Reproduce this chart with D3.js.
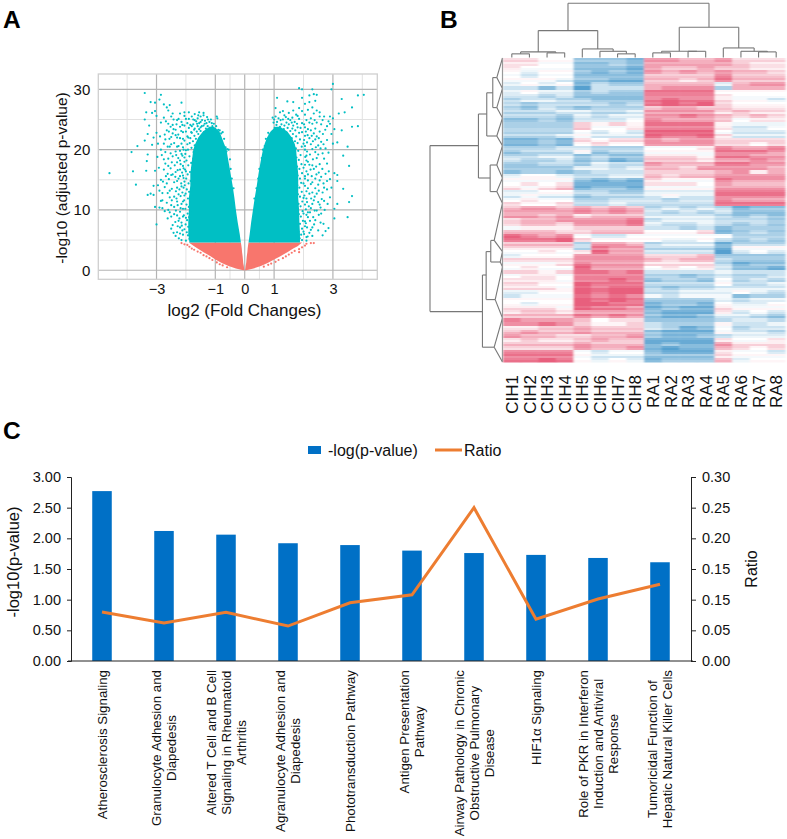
<!DOCTYPE html>
<html><head><meta charset="utf-8">
<script src="https://cdn.jsdelivr.net/npm/d3@7/dist/d3.min.js"></script>
<style>
html,body{margin:0;padding:0;background:#fff}
svg{display:block}
text{font-family:"Liberation Sans",Arial,sans-serif;fill:#111}
</style></head><body><svg id="c" width="787" height="839"></svg>
<script>
// ---------- Panel A: volcano ----------
const volcanoXMajor=[-3,-1,0,1,3];
const volcanoXMinor=[-4,-2,-0.5,0.5,2,4];
const volcanoYMajor=[0,10,20,30];
const volcanoYMinor=[5,15,25];
// dense parts of the cloud: bands of -log10(p) and the log2FC edges at each
const leftCloudP=[4.6,6,8,10,12,14,16,18,20,21,22,23,23.8];
const leftCloudOuter=[-1.88,-1.92,-1.92,-1.9,-1.9,-1.85,-1.85,-1.8,-1.75,-1.68,-1.58,-1.42,-1.2];
const leftCloudInner=[-0.13,-0.17,-0.24,-0.3,-0.35,-0.41,-0.48,-0.55,-0.62,-0.7,-0.78,-0.86,-1.05];
const rightCloudP=[4.6,6,8,10,12,14,16,18,20,21,22,23,23.8];
const rightCloudInner=[0.13,0.17,0.22,0.28,0.34,0.41,0.47,0.54,0.62,0.68,0.76,0.88,1.05];
const rightCloudOuter=[1.88,1.88,1.86,1.85,1.82,1.82,1.82,1.78,1.75,1.7,1.6,1.45,1.2];
const redP=[0,0.3,0.7,1.2,1.8,2.3,3,3.6,4,4.6];
const redLeftOuter=[-0.05,-0.3,-0.55,-0.78,-1.0,-1.15,-1.4,-1.6,-1.72,-1.9];
const redLeftInner=[-0.01,-0.02,-0.03,-0.05,-0.06,-0.07,-0.09,-0.1,-0.11,-0.13];
const redRightInner=[0.01,0.02,0.03,0.05,0.06,0.07,0.09,0.1,0.11,0.13];
const redRightOuter=[0.05,0.3,0.55,0.78,1.0,1.2,1.45,1.65,1.8,1.95];
// scatter
const tealLeft=[[-4.6,16.1],[-3.85,19.6],[-3.8,16.4],[-3.7,14.2],[-3.65,20.6],[-3.4,21.5],[-3.3,22.6],[-3.3,19.2],[-3.35,16.5],[-3.33,18.1],[-3.3,12.5],[-3.2,12.7],[-3.1,12.5],[-3.05,10.5],[-3,7.6],[-3.4,29.4],[-3.2,27.9],[-3.05,27.8],[-2.85,29.1],[-2.9,28.3],[-2.75,27.5],[-2.65,27],[-2.55,27.4],[-2.6,26.5],[-2.15,27.8],[-3.4,25],[-3.35,26.2],[-3.15,26.1],[-3.05,26.4],[-3,25.6],[-3.25,24],[-2.85,24.5],[-2.75,25.3],[-2.5,25.5],[-2.6,24.3],[-3,22.8],[-2.95,21],[-3.1,22],[-2.85,20],[-2.95,14.1],[-2.9,13.2],[-2.85,15],[-2.85,11.5],[-2.8,10.3],[-2.8,12.8],[-2.75,16.7],[-2.75,18.4],[-2.7,21.7],[-2.7,19.6],[-2.65,23.2],[-2.65,14.4],[-2.65,11.2],[-2.6,10],[-2.6,17.3],[-2.55,20.5],[-2.55,13.2],[-2.5,22.1],[-2.5,15.8],[-2.5,8.9],[-2.5,10.8],[-2.45,7.5],[-2.45,18.9],[-2.45,24.1],[-2.4,9.3],[-2.4,12.2],[-2.4,14.6],[-2.4,21.1],[-2.4,10.5],[-2.35,5.7],[-2.35,16.3],[-2.35,19.7],[-2.35,23.3],[-2.3,6.3],[-2.3,9.1],[-2.3,11.4],[-2.3,13.7],[-2.3,17.9],[-2.3,22],[-2.3,24.9],[-2.25,8.2],[-2.25,15.2],[-2.25,20.6],[-2.25,12.6],[-2.25,25.1],[-2.2,7.1],[-2.2,9.7],[-2.2,18.2],[-2.2,21.9],[-2.2,16.7],[-2.2,23.8],[-2.2,26],[-2.15,5],[-2.15,7.9],[-2.15,11],[-2.15,13.9],[-2.15,19.3],[-2.15,24.6],[-2.1,5.9],[-2.1,10.2],[-2.1,15.7],[-2.1,17.3],[-2.1,20.4],[-2.1,22.9],[-2.05,6.8],[-2.05,12.4],[-2.05,14.7],[-2.05,18.7],[-2.05,21.5],[-2.05,24],[-2.05,25.6],[-2,4.9],[-2,8.7],[-2,16.4],[-2,19.9],[-2,23],[-2,25.1],[-1.95,22.2],[-1.95,24.4],[-1.95,20.9],[-1.9,26.2],[-1.9,23.6],[-1.9,25.1],[-1.85,21.9],[-1.85,24.1],[-1.8,25.5],[-1.8,22.8],[-1.8,23.9],[-1.75,25],[-1.75,24.2],[-1.7,23.5],[-1.7,25.9],[-1.65,24.7],[-1.6,25.2],[-1.6,23.9],[-1.55,26.2],[-1.55,24.4],[-1.5,25.5],[-1.5,23.7],[-1.45,24.9],[-1.4,24],[-1.4,25.7],[-1.4,26.1],[-1.35,24.8],[-1.3,24.4],[-1.25,25],[-1.2,24.6],[-1.15,25],[-1.1,23.9],[-1.05,24.3],[-1.05,22.9],[-0.95,25.5],[-0.93,25.2],[-0.9,23.3],[-0.85,23.2],[-0.8,22.7],[-0.75,22.9],[-0.7,21.8],[-0.65,20.4],[-0.6,20.1],[-0.55,20],[-0.62,19.7],[-0.5,18.4],[-0.48,16.8],[-0.44,15.2],[-0.38,13.6]];
const tealLeftDense=[[-1.88,5.2],[-1.93,5.8],[-1.97,6.3],[-1.86,6.7],[-1.92,7.2],[-2.01,7.6],[-1.85,7.9],[-1.96,8.3],[-1.89,8.8],[-2.07,9.1],[-1.94,9.4],[-1.84,9.8],[-2.02,10.2],[-1.9,10.5],[-1.98,10.9],[-1.86,11.3],[-2.06,11.6],[-1.93,11.9],[-1.81,12.3],[-2.01,12.7],[-1.89,13],[-1.97,13.4],[-1.8,13.7],[-2.04,14.1],[-1.91,14.4],[-1.84,14.8],[-1.99,15.2],[-1.78,15.5],[-1.94,15.9],[-1.86,16.3],[-2.03,16.7],[-1.79,17],[-1.92,17.4],[-1.82,17.8],[-1.98,18.2],[-1.75,18.5],[-1.88,18.9],[-2.02,19.3],[-1.74,19.6],[-1.93,20],[-1.81,20.3],[-1.7,20.7],[-1.87,21.1],[-1.76,21.4],[-1.66,21.8],[-1.92,22],[-1.71,22.3],[-1.58,22.6],[-1.45,22.4],[-1.82,22.9],[-1.63,23],[-1.5,23.1],[-1.38,22.9],[-1.25,22.8],[-1.14,23.1],[-1.72,23.3],[-1.55,23.4],[-1.32,23.5],[-1.18,23.6],[-1,23.4],[-1.46,23.9],[-1.26,23.9],[-0.97,23.9],[-1.62,24.3],[-1.36,24.3],[-1.12,24.4],[-1.5,24.6],[-1.7,24.9],[-1.28,25.4],[-1.58,25.7],[-2.24,5.3],[-2.2,6.1],[-2.12,6.6],[-2.28,7.3],[-2.14,7.4],[-2.36,8],[-2.22,8.6],[-2.1,8.9],[-2.34,9.9],[-2.18,10.3],[-2.28,10.8],[-2.1,11.4],[-2.32,11.9],[-2.18,12.3],[-2.12,12.9],[-2.34,13.1],[-2.22,13.4],[-2.08,13.7],[-2.16,14.4],[-2.3,14.8],[-2.08,15.3],[-2.2,15.6],[-2.36,15.5],[-2.13,16.2],[-2.28,16.6],[-2.08,16.9],[-2.18,17.6],[-2.38,17.4],[-2.05,18],[-2.26,18.6],[-2.12,19],[-2.33,19.1],[-2.2,19.8],[-2.08,20],[-2.3,20.5],[-2.15,21],[-2.35,22.4],[-2.1,21.8],[-2.26,22.5],[-2.16,23.1],[-2.42,23.4],[-2.12,24.1],[-2.32,24.2],[-2.42,25],[-2.05,26.2],[-2.5,6.9],[-2.42,6.2],[-2.55,9.6],[-2.48,11.6],[-2.55,12.1],[-2.62,12.8],[-2.48,13.5],[-2.58,15.1],[-2.45,15.9],[-2.52,16.9],[-2.62,16],[-2.48,17.9],[-2.6,18.5],[-2.52,19.4],[-2.62,20.5],[-2.5,20.9],[-2.56,21.8],[-2.45,22.7],[-2.58,23],[-2.72,22.5],[-2.52,23.8],[-2.68,24.7],[-2.45,26],[-2.72,13.8],[-2.68,15.6],[-2.78,14.7],[-2.7,17.7],[-2.82,19.1],[-2.75,21],[-2.88,22.2],[-2.92,17],[-2.97,18.8],[-3.05,16.5],[-3.1,14],[-3.15,20.8],[-2.72,9.8],[-2.62,8.6],[-2.8,11.6],[-2.9,10.4]];
const tealRight=[[4.05,29.1],[3.85,29],[3.3,28.4],[3.65,27],[3.4,26.2],[3.2,26],[3.65,23.8],[3.85,23.9],[3.05,23.4],[3.3,23.2],[3,25.2],[2.9,25.5],[3.15,21.2],[3,21],[3.5,20.5],[3.35,19],[3.55,17.3],[3.05,16.1],[3.15,15.8],[3.15,14.8],[3.35,13.5],[3.65,12.3],[3.55,11.3],[3.15,11],[3.05,10.2],[3.05,8.6],[3.5,8.8],[2.85,7],[2.65,5.8],[2.75,6.5],[3,30.9],[2.95,30],[2.3,30],[1.95,30],[1.85,30.2],[2.2,29],[2.35,29.2],[1.95,28.6],[1.65,27.9],[1.1,28.6],[1.45,28],[2.45,29.1],[2.4,28.1],[2.2,27.9],[2.05,27.6],[2.3,27],[2.15,26.6],[2.45,26.5],[2.35,26],[2.55,25.5],[2.65,24.9],[2.85,24.7],[2.9,24.3],[2.8,23.9],[2.95,22.6],[2.8,21.6],[2.75,20.2],[2.85,19.5],[2.65,19.4],[2.7,18.5],[2.55,17.6],[2.6,15.5],[2.9,15.1],[2.95,13.7],[2.8,13.4],[2.65,12.9],[2.9,12.1],[2.7,11.5],[2.55,10.9],[2.45,9.9],[2.6,9.4],[2.3,7.1],[2.4,8.3],[2.5,6.6],[2.2,6.2],[2.1,5.5],[2.3,5.7],[2.05,7.3],[2.15,8.8],[2.25,10.3],[2.35,11.6],[2.45,12.7],[2.1,13.1],[2.25,14.3],[2.4,15.2],[2.5,14.2],[2.35,16.8],[2.2,17.5],[2.45,18.6],[2.1,19],[2.3,20.1],[2.5,20.7],[2.6,21.3],[2.4,21.7],[2.2,21.9],[2.35,22.7],[2.55,23],[2.15,23.4],[2.3,24.3],[2.45,24.5],[2.1,24.9],[2.25,25.2],[2.05,25.8],[1.95,26.4],[1.85,26.9],[1.65,26.5],[1.75,25.8],[1.5,26.1],[1.3,26.4],[1.2,26.2],[1.05,26.9],[0.95,25.3],[1,25],[1.1,24.6],[1.15,25.2],[1.3,25],[1.4,25.4],[1.55,24.9],[1.7,24.6],[1.85,25.1],[1.95,24.4],[2.05,23.7],[1.95,22.9],[2.05,22.3],[2,21],[2.05,20],[2.1,18.2],[2,17],[2.05,15.6],[2,14.4],[2,12],[2.05,10.9],[2,9.4],[2.05,8.1],[2,6.4],[2.1,11.9],[2.15,15.9],[2.2,12.7],[2.15,9.6],[1.95,5],[2.1,4.9],[1.8,23.7],[1.65,24],[1.5,24.2],[1.35,24],[1.2,23.8],[1.1,23.2],[0.95,23],[0.85,22.5],[0.8,22.8],[0.72,21.8],[0.68,20.6],[0.62,20],[0.58,18.6],[0.5,16.8],[0.46,15.2],[0.4,13.6],[0.33,11.9]];
const tealRightDense=[[1.87,5.3],[1.92,5.9],[1.83,6.4],[1.95,6.9],[1.79,7.2],[1.88,7.7],[1.98,8.2],[1.8,8.5],[1.91,8.9],[1.84,9.3],[1.97,9.8],[1.78,10.2],[1.9,10.6],[1.83,11],[1.96,11.4],[1.76,11.7],[1.88,12.2],[1.81,12.6],[1.94,13],[1.74,13.4],[1.86,13.7],[1.79,14.1],[1.92,14.5],[1.75,14.9],[1.88,15.2],[1.8,15.7],[1.95,16.1],[1.74,16.5],[1.86,16.8],[1.78,17.2],[1.93,17.6],[1.71,17.9],[1.84,18.3],[1.76,18.7],[1.9,19.1],[1.69,19.4],[1.82,19.8],[1.74,20.2],[1.94,20.5],[1.66,20.7],[1.8,21.1],[1.71,21.4],[1.88,21.7],[1.6,21.9],[1.75,22.2],[1.5,22.3],[1.64,22.6],[1.85,22.8],[1.42,22.8],[1.25,22.9],[1.55,23.1],[1.72,23.2],[1.15,23.3],[1.33,23.4],[1.46,23.6],[1.62,23.5],[1.02,23.6],[1.25,24.2],[1.42,24.5],[1.6,24.5],[1.08,24.1],[1.78,24.3],[1.9,23.6],[1.22,24.9],[1.48,25.1],[1.62,25.3],[0.98,24.5],[1.05,25.5],[1.35,25.7],[1.8,25.6],[2.14,5.6],[2.02,6],[2.25,6.7],[2.12,7.1],[2.36,7.6],[2.08,7.8],[2.22,8.2],[2.33,8.8],[2.1,9.2],[2.22,9.6],[2.38,9.9],[2.08,10.1],[2.18,10.6],[2.3,11],[2.12,11.3],[2.26,11.9],[2.38,12.2],[2.03,12.4],[2.3,12.9],[2.15,13.6],[2.4,13.6],[2.05,14],[2.3,14.6],[2.15,14.9],[2.05,15.2],[2.28,15.6],[2.44,15.9],[2.1,16.4],[2.24,16.7],[2.05,17.5],[2.3,17.4],[2.43,17.2],[2.15,18],[2.32,18.4],[2.06,18.8],[2.22,19.2],[2.4,19.6],[2.12,19.7],[2.05,20.6],[2.25,20.9],[2.42,20.4],[2.12,21.2],[2.32,21.4],[2.02,21.6],[2.14,22.4],[2.28,22.3],[2.45,22.2],[2.08,23],[2.25,23.2],[2.4,23.5],[2.02,24.2],[2.2,24.5],[2.38,24.9],[2.52,9.2],[2.58,10.4],[2.5,11.3],[2.62,11.8],[2.52,13.2],[2.7,13.7],[2.55,14.9],[2.68,14.4],[2.52,16.2],[2.64,16.8],[2.75,16],[2.5,19.2],[2.58,20.2],[2.68,20.9],[2.52,21.9],[2.66,22.6],[2.74,23.3],[2.6,24.2],[2.55,26.2],[2.7,25.5],[2.8,17.7],[2.86,16.4],[2.8,14.8],[2.82,11],[2.72,10],[2.68,7.7],[2.58,7.9]];
const redFringe=[[-2.15,4.5],[-2.05,4.3],[-1.95,4.2],[-1.88,3.9],[-1.8,3.6],[-1.72,3.4],[-1.6,3.1],[-1.5,2.9],[-1.4,2.5],[-1.3,2.3],[-1.2,2],[-1.1,1.7],[-0.95,1.3],[-0.85,1],[-0.75,0.8],[-0.6,0.5],[2.35,4.5],[2.25,4.5],[2.1,4.4],[2.05,4.1],[1.95,3.8],[1.85,3.5],[1.85,3],[1.7,3.2],[1.6,2.9],[1.5,2.6],[1.4,2.3],[1.3,2],[1.15,1.7],[1.05,1.4],[0.9,1.1],[0.8,0.9],[0.65,0.6]];

// ---------- Panel B: heatmap ----------
const heatColumns=["CIH1","CIH2","CIH3","CIH4","CIH5","CIH6","CIH7","CIH8","RA1","RA2","RA3","RA4","RA5","RA6","RA7","RA8"];
const heatRows=[
[1,1,0,0,-3,-3,-3,-4,3,3,2,2,3,1,1,1],[1,1,0,0,-3,-3,-2,-3,3,3,3,3,3,2,1,1],[1,0,0,0,-3,-3,-3,-4,3,2,2,3,2,2,1,1],[0,-1,0,0,-3,-4,-3,-4,3,2,3,2,3,2,2,1],
[0,-1,0,0,-3,-3,-3,-3,2,2,2,2,4,2,2,2],[0,0,0,-1,-3,-3,-4,-4,2,2,1,2,4,2,2,2],[-1,0,-1,0,-4,-2,-3,-3,2,2,2,2,-1,2,3,3],[-1,-1,-3,-1,-5,-1,-1,-1,3,4,4,4,-2,3,3,3],
[-1,0,-1,-1,-3,-2,-3,-3,4,4,4,4,0,0,0,0],[-1,-1,-2,-1,-3,-3,-3,-3,4,4,4,4,1,0,0,0],[-2,-1,-1,-2,-2,-3,-3,-3,4,5,4,4,1,0,0,-1],[-2,-3,-2,-2,-2,-2,-3,-2,4,5,4,5,1,0,0,0],
[-2,-3,-1,-2,-3,-2,-2,-2,2,3,3,2,2,1,1,1],[-2,-2,-2,-1,-1,-2,-2,-1,3,3,3,3,1,2,1,1],[-2,-2,-2,-3,-1,-2,-1,-1,3,3,4,3,2,1,2,1],[-3,-3,-2,-3,-1,-1,-1,0,4,3,3,3,2,0,1,1],
[-3,-3,-3,-3,1,0,1,0,4,4,4,4,0,-1,-1,-1],[-2,-2,-2,-2,2,0,0,1,4,4,4,4,1,-1,-1,0],[-2,-2,-2,-2,0,-1,0,-1,5,5,5,5,0,-1,-1,-1],[-2,-2,-2,-1,0,-1,-1,-1,5,4,4,5,1,-1,-1,-1],
[-4,-4,-3,-4,1,0,1,1,3,2,3,3,1,1,1,1],[-4,-4,-3,-4,0,1,0,0,3,3,3,3,1,1,0,1],[-2,-2,-2,-1,-1,-2,-2,-2,0,0,0,1,4,3,3,4],[-3,-2,-2,-2,0,-3,-2,-2,0,0,0,0,4,4,4,3],
[-2,-2,-1,-1,-3,-2,-3,-3,1,1,1,0,4,4,3,3],[-1,-2,-2,-1,-3,-2,-4,-3,2,2,2,1,3,3,4,3],[-3,-3,-2,-2,-3,-1,-2,-2,3,2,2,2,4,4,3,3],[-3,-3,-3,-3,-1,-1,-2,-1,2,2,1,3,3,3,3,2],
[-3,-2,-2,-3,-2,-1,-1,-1,2,2,2,2,3,4,1,3],[-1,0,0,-1,-2,-2,-1,-1,2,1,2,2,3,3,3,3],[0,0,0,0,-3,-4,-3,-4,1,0,0,0,4,3,3,3],[0,1,0,1,-4,-4,-4,-4,1,1,1,0,3,2,2,2],
[1,0,1,2,-4,-3,-3,-4,0,0,0,0,3,3,3,3],[-1,-1,0,0,-2,-2,-3,-3,-1,-1,-1,-1,4,4,4,4],[-1,0,-1,-1,-3,-2,-2,-2,-1,0,-1,-1,4,4,4,4],[0,1,0,0,-2,-2,-1,-1,-1,-2,-1,-1,4,3,3,3],
[1,0,0,1,-2,-2,-1,-2,-2,-2,-2,-2,4,4,4,4],[2,3,3,2,3,2,3,2,-2,-1,-2,-1,-2,-4,-3,-3],[3,3,3,3,4,3,4,3,-1,-2,-1,-2,-1,-3,-3,-3],[3,3,2,3,1,2,2,2,-1,-1,-1,-1,-2,-3,-2,-3],
[1,2,2,3,3,3,3,4,-2,-1,-1,-1,-2,-2,-2,-3],[1,2,2,1,3,3,3,4,-1,-2,-2,-1,-2,-3,-2,-3],[0,1,1,1,2,2,2,2,-1,-1,-2,-1,-3,-2,-2,-2],[2,2,2,1,1,2,2,2,0,0,0,1,-4,-3,-2,-3],
[5,4,3,4,0,-1,-1,0,0,0,0,0,0,-2,-2,-2],[4,4,4,5,1,0,0,0,0,-1,-1,0,-2,-3,-2,-3],[2,2,2,2,-2,3,3,2,-2,-1,-1,-1,-4,-2,-2,-2],[1,1,1,1,-2,4,3,3,-2,-2,-2,-2,-4,0,0,0],
[0,0,1,0,1,5,3,3,-1,-1,-1,-1,-5,-1,0,-1],[-1,0,0,0,3,3,3,3,1,1,1,2,-3,-3,-3,-3],[1,1,1,1,3,3,3,3,2,1,2,2,-2,-3,-3,-3],[0,0,0,1,4,3,3,3,1,1,1,1,-2,-4,-3,-3],
[0,1,0,0,5,3,3,3,0,1,0,1,-1,-3,-3,-4],[1,1,0,1,4,4,3,4,-2,-2,-2,-2,-1,-2,-2,-2],[0,1,1,0,4,4,4,4,-2,-2,-3,-2,-1,-2,-2,-1],[1,1,1,0,4,4,5,4,-3,-2,-2,-3,0,-2,-1,-2],
[1,1,0,0,5,4,4,4,-2,-2,-2,-2,0,-2,-2,-1],[1,1,1,0,5,4,5,5,-2,-3,-2,-2,-1,-1,-1,-1],[-1,-1,0,0,5,4,5,5,-2,-2,-1,-1,-1,0,-1,-2],[-1,0,0,0,5,4,5,4,0,-1,0,0,0,-3,-2,-2],
[0,0,0,0,5,4,5,4,-3,-3,-3,-3,-1,-2,-1,-1],[0,-1,0,0,5,5,4,4,-4,-3,-3,-4,0,-1,-1,0],[1,1,1,0,5,4,4,3,-4,-3,-4,-4,1,0,0,0],[1,2,2,1,3,3,3,3,-3,-4,-4,-4,1,-1,0,-1],
[2,2,2,2,4,3,4,3,-3,-4,-4,-3,-1,-1,-2,-3],[4,3,3,3,2,0,1,1,-3,-3,-3,-3,-2,-1,-1,-2],[3,3,4,3,1,0,0,1,-2,-3,-3,-3,0,-2,-2,-1],[1,1,2,2,3,2,2,2,-1,-2,-4,-3,0,-2,-1,-1],
[2,3,2,2,3,2,2,2,-3,-4,-4,-4,0,-1,-1,-2],[3,2,2,1,1,2,2,3,-3,-4,-4,-3,-2,-1,-1,-1],[1,2,1,1,2,3,2,2,-4,-4,-4,-4,1,0,0,1],[2,2,2,2,3,2,2,2,-4,-3,-4,-4,3,1,1,1],
[1,1,1,1,3,2,2,3,-4,-5,-4,-4,2,1,0,1],[4,4,4,4,0,-1,0,0,-3,-4,-4,-4,1,0,0,-1],[4,4,4,4,0,-1,-1,-1,-3,-3,-3,-3,1,0,0,0],[4,4,5,4,0,-1,0,-1,-4,-3,-3,-3,2,-1,0,0]
];
// fine stripes seen inside each row: two per row, nudging its cells paler (-1) or deeper (+1)
const heatStripes=[
0,1,-1,0,0,-1,1,0,-1,0,1,-1,0,1,-1,-1,1,0,0,
-1,-1,1,0,1,-1,0,1,-1,1,0,-1,0,1,1,-1,0,0,-1,
1,-1,0,1,1,0,-1,0,1,-1,-1,1,0,-1,1,0,0,1,-1,
-1,0,1,1,-1,0,0,-1,1,0,1,1,-1,-1,0,1,0,-1,1,
0,-1,-1,1,0,1,1,0,-1,-1,0,1,-1,0,1,0,-1,1,1,
-1,0,-1,0,1,1,0,-1,1,0,-1,1,1,-1,0,0,-1,1,0,
-1,1,1,0,-1,-1,1,0,0,1,-1,1,0,-1,1,-1,0,0,1,
1,-1,0,-1,1,0,1,0,-1,-1,1,1,0,-1,0,1,-1,0,1];
// column tree: [height, childA, childB]; numbers are column indices
const columnTree=[55,
 [27.3,[5.7,[3.7,0,1],[4.7,2,3]],[8.7,4,[6.3,5,[3.7,6,7]]]],
 [30.7,[6.3,[4.7,8,9],[6.3,10,11]],[9.7,12,[6.3,13,[5.7,14,15]]]]];
// row tree: [height, rowPosition, childA, childB]; numbers are row positions
const rowTree=[72.3,42.6,
 [24,21.9,[15.7,14,[9.7,8.7,[5.7,4.9,0,7.6],[5.7,12.4,7.6,15]],[5.7,19.5,15,21.9]],[12.3,30,[5.7,26.75,21.9,30],[5.7,33.4,30,36.3]]],
 [20,63.4,[16.3,54.25,[11.7,48.4,[8.3,45.6,36.3,48.4],[2.3,51,48.4,52.2]],[7.3,60.4,52.2,65]],[8.3,72.3,65,76]]];

// ---------- Panel C: bars and line ----------
const pathwayLabels=[["Atherosclerosis Signaling"],["Granulocyte Adhesion and","Diapedesis"],["Altered T Cell and B Cell","Signaling in Rheumatoid","Arthritis"],["Agranulocyte Adhesion and","Diapedesis"],["Phototransduction Pathway"],["Antigen Presentation","Pathway"],["Airway Pathology in Chronic","Obstructive Pulmonary","Disease"],["HIF1α Signaling"],["Role of PKR in Interferon","Induction and Antiviral","Response"],["Tumoricidal Function of","Hepatic Natural Killer Cells"]];
const logP=[2.77,2.12,2.06,1.92,1.89,1.80,1.76,1.73,1.68,1.61];
const ratio=[0.08,0.062,0.0795,0.057,0.095,0.108,0.25,0.068,0.101,0.125];
const leftTicks=[0,0.5,1,1.5,2,2.5,3];
const rightTicks=[0,0.05,0.1,0.15,0.2,0.25,0.3];
const rightTickLabels=["0.00","0.05","0.15","0.15","0.20","0.25","0.30"];

const svg=d3.select("#c");
svg.append("rect").attr("width",787).attr("height",839).attr("fill","#fff");
const defs=svg.append("defs");
defs.append("filter").attr("id","soft").attr("x","-2%").attr("y","-2%").attr("width","104%").attr("height","104%")
 .append("feGaussianBlur").attr("stdDeviation","1.1 0.55");
const letter=(t,x,y)=>svg.append("text").text(t).attr("x",x).attr("y",y).attr("font-size",24.5).attr("font-weight","bold").style("fill","#000");
letter("A",3,28);letter("B",440,28);letter("C",3,439);

// A
(function(){
 const P={l:98.3,r:377.3,t:74,b:279.3};
 const x=d3.scaleLinear().domain([-4.98,4.51]).range([P.l,P.r]);
 const y=d3.scaleLinear().domain([-1.5,32.55]).range([P.b,P.t]);
 const g=svg.append("g");
 g.selectAll(".vmn").data(volcanoXMinor).join("line").attr("x1",x).attr("x2",x).attr("y1",P.t).attr("y2",P.b).attr("stroke","#e2e2e2").attr("stroke-width",1);
 g.selectAll(".hmn").data(volcanoYMinor).join("line").attr("y1",y).attr("y2",y).attr("x1",P.l).attr("x2",P.r).attr("stroke","#e2e2e2").attr("stroke-width",1);
 g.selectAll(".vmj").data(volcanoXMajor).join("line").attr("x1",x).attr("x2",x).attr("y1",P.t).attr("y2",P.b).attr("stroke","#b4b4b4").attr("stroke-width",1.2);
 g.selectAll(".hmj").data(volcanoYMajor).join("line").attr("y1",y).attr("y2",y).attr("x1",P.l).attr("x2",P.r).attr("stroke","#b4b4b4").attr("stroke-width",1.2);
 g.append("rect").attr("x",P.l).attr("y",P.t).attr("width",P.r-P.l).attr("height",P.b-P.t).attr("fill","none").attr("stroke","#cfcfcf").attr("stroke-width",1.3);
 const band=(ps,a,b,c)=>g.append("path").attr("fill",c).attr("d",d3.area().y((d,i)=>y(ps[i])).x0((d,i)=>x(a[i])).x1((d,i)=>x(b[i]))(ps));
 band(redP,redLeftOuter,redLeftInner,"#F8766D");
 band(redP,redRightInner,redRightOuter,"#F8766D");
 band(leftCloudP,leftCloudOuter,leftCloudInner,"#00BFC4");
 band(rightCloudP,rightCloudInner,rightCloudOuter,"#00BFC4");
 const dots=(data,c)=>g.append("g").selectAll("circle").data(data).join("circle").attr("cx",d=>x(d[0])).attr("cy",d=>y(d[1])).attr("r",1.1).attr("fill",c);
 dots(tealLeft,"#00BFC4");dots(tealLeftDense,"#00BFC4");dots(tealRight,"#00BFC4");dots(tealRightDense,"#00BFC4");dots(redFringe,"#F8766D");
 const ax=g.append("g").attr("transform",`translate(0,${P.b+2})`).call(d3.axisBottom(x).tickValues(volcanoXMajor).tickSize(0).tickFormat(d3.format("d")));
 ax.select(".domain").remove();ax.selectAll("text").attr("font-size",14.5).attr("dy","0.7em").style("fill","#111");
 const ay=g.append("g").attr("transform",`translate(${P.l-5},0)`).call(d3.axisLeft(y).tickValues(volcanoYMajor).tickSize(0).tickFormat(d3.format("d")));
 ay.select(".domain").remove();ay.selectAll("text").attr("font-size",15).style("fill","#111");
 g.selectAll("g text").style("font-family",'"Liberation Sans",Arial,sans-serif');
 g.append("text").text("log2 (Fold Changes)").attr("x",244.5).attr("y",316).attr("text-anchor","middle").attr("font-size",17);
 g.append("text").text("-log10 (adjusted p-value)").attr("transform","translate(67,178) rotate(-90)").attr("text-anchor","middle").attr("font-size",15.5);
})();

// B
(function(){
 const R={l:503,r:785,t:58,b:362};
 const x=d3.scaleBand().domain(d3.range(heatColumns.length)).range([R.l,R.r]);
 const sub=d3.scaleBand().domain(d3.range(heatRows.length*2)).range([R.t,R.b]);
 const pos=d3.scaleLinear().domain([0,heatRows.length]).range([R.t,R.b]);
 const col=d3.scaleLinear().domain([-5,0,5]).range(["#56a0cf","#ffffff","#e85f7d"]).clamp(true);
 const heat=svg.append("g").attr("filter","url(#soft)");
 const g=svg.append("g");
 heatRows.forEach((row,ri)=>{
  [0,1].forEach(j=>{
   const si=ri*2+j;
   heat.append("g").selectAll("rect").data(row).join("rect")
    .attr("x",(d,i)=>x(i)).attr("y",sub(si)).attr("width",x.bandwidth()+0.5).attr("height",sub.bandwidth()+0.5)
    .attr("fill",d=>col(d===0?heatStripes[si]*0.3:d+heatStripes[si]*0.5));
  });
 });
 g.selectAll(".cl").data(heatColumns).join("text").text(d=>d)
  .attr("transform",(d,i)=>`translate(${x(i)+x.bandwidth()/2},375) rotate(-90)`)
  .attr("text-anchor","end").attr("dy","0.36em").attr("font-size",17);
 // column dendrogram
 const h=d3.scaleLinear().domain([0,55]).range([57.5,3.3]);
 const line=(x1,y1,x2,y2,c,w)=>g.append("line").attr("x1",x1).attr("y1",y1).attr("x2",x2).attr("y2",y2).attr("stroke",c||"#777").attr("stroke-width",w||1.1);
 const drawCol=n=>{
  if(typeof n==="number") return {x:x(n)+x.bandwidth()/2,h:0};
  const a=drawCol(n[1]),b=drawCol(n[2]);
  line(a.x,h(n[0]),b.x,h(n[0]));
  line(a.x,h(a.h),a.x,h(n[0]));
  line(b.x,h(b.h),b.x,h(n[0]));
  return {x:(a.x+b.x)/2,h:n[0]};
 };
 drawCol(columnTree);
 // row dendrogram
 const hr=d3.scaleLinear().domain([0,72.3]).range([502.5,430]);
 const drawRow=n=>{
  const hh=hr(n[0]),yy=pos(n[1]);
  [n[2],n[3]].forEach(c=>{
   if(typeof c==="number"){line(hh,yy,hr(0),pos(c));}
   else{line(hh,pos(c[1]),hr(c[0]),pos(c[1]));drawRow(c);}
  });
  if(typeof n[2]!=="number"&&typeof n[3]!=="number") line(hh,pos(n[2][1]),hh,pos(n[3][1]));
  else if(typeof n[2]!=="number"||typeof n[3]!=="number"){
   const c=typeof n[2]!=="number"?n[2]:n[3], o=c===n[2]?n[3]:n[2];
   line(hh,pos(c[1]),hh,pos(o));
  }
 };
 drawRow(rowTree);
 line(hr(0),R.t,hr(0),R.b,"#999",1.2);
})();

// C
(function(){
 const P={l:71,r:691,t:477,b:661};
 const x=d3.scaleBand().domain(d3.range(logP.length)).range([P.l,P.r]).paddingInner(0.685).paddingOuter(0.3425);
 const yL=d3.scaleLinear().domain([0,3]).range([P.b,P.t]);
 const yR=d3.scaleLinear().domain([0,0.3]).range([P.b,P.t]);
 const g=svg.append("g");
 g.selectAll(".bar").data(logP).join("rect").attr("x",(d,i)=>x(i)).attr("y",yL).attr("width",x.bandwidth()).attr("height",d=>P.b-yL(d)).attr("fill","#0070C6");
 const cx=i=>x(i)+x.bandwidth()/2;
 g.append("path").attr("fill","none").attr("stroke","#ED7D31").attr("stroke-width",3).attr("stroke-linejoin","miter")
  .attr("d",d3.line().x((d,i)=>cx(i)).y(d=>yR(d))(ratio));
 const al=g.append("g").attr("transform",`translate(${P.l},0)`).call(d3.axisLeft(yL).tickValues(leftTicks).tickSize(4).tickPadding(6).tickFormat(d3.format(".2f")));
 const ar=g.append("g").attr("transform",`translate(${P.r},0)`).call(d3.axisRight(yR).tickValues(rightTicks).tickSize(5).tickPadding(6).tickFormat((d,i)=>rightTickLabels[i]));
 [al,ar].forEach(a=>{a.selectAll("text").attr("font-size",14.5).style("fill","#111").style("font-family",'"Liberation Sans",Arial,sans-serif');a.selectAll("path,line").attr("stroke","#222");a.select(".domain").attr("stroke-width",1);});
 const ab=g.append("g").attr("transform",`translate(0,${P.b})`).call(d3.axisBottom(x).tickSize(0).tickFormat(""));
 ab.select(".domain").attr("stroke","#222").attr("d",`M${P.l-3},0H${P.r+2}`);
 // category labels
 pathwayLabels.forEach((lines,i)=>{
  const t=g.append("g").attr("transform",`translate(${cx(i)},670) rotate(-90)`);
  const ts=lines.map((s,k)=>t.append("text").text(s).attr("font-size",13.3).attr("text-anchor","middle").attr("dy","0.36em").attr("y",(k-(lines.length-1)/2)*15.2));
  const w=d3.max(ts,s=>s.node().getComputedTextLength());
  ts.forEach(s=>s.attr("x",-w/2));
 });
 g.append("text").text("-log10(p-value)").attr("transform","translate(19,562) rotate(-90)").attr("text-anchor","middle").attr("font-size",16.5);
 g.append("text").text("Ratio").attr("transform","translate(757,569) rotate(-90)").attr("text-anchor","middle").attr("font-size",16);
 // legend
 g.append("rect").attr("x",308).attr("y",446).attr("width",13).attr("height",8).attr("fill","#0070C6");
 g.append("text").text("-log(p-value)").attr("x",328).attr("y",455.5).attr("font-size",16);
 g.append("line").attr("x1",435).attr("x2",462).attr("y1",450).attr("y2",450).attr("stroke","#ED7D31").attr("stroke-width",3);
 g.append("text").text("Ratio").attr("x",464).attr("y",455.5).attr("font-size",16);
})();
</script></body></html>
